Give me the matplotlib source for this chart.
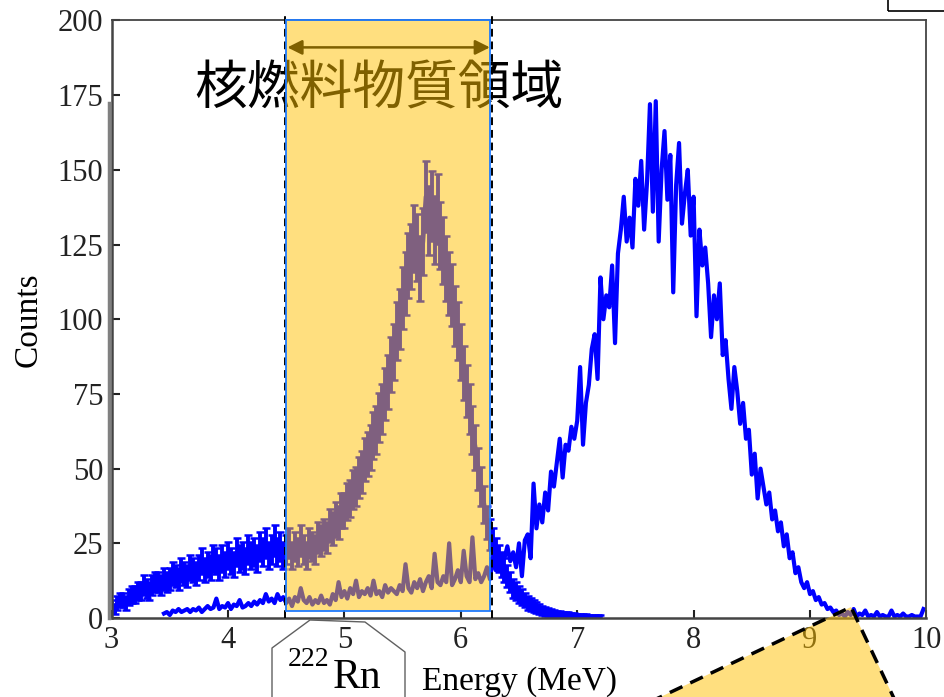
import numpy as np
import matplotlib
matplotlib.use("Agg")
import matplotlib.pyplot as plt
from matplotlib.patches import Rectangle, Polygon
from matplotlib.lines import Line2D

# espectro con barras de error (Rn-222), paso 0.025 MeV desde 3.0
a_start, a_step = 3.0, 0.025
a_counts = [
    4, 3, 5, 6, 6, 5, 7, 8, 8, 9,
    9, 11, 10, 9, 11, 12, 12, 11, 13, 12,
    13, 15, 14, 13, 16, 15, 14, 17, 16, 15,
    17, 19, 16, 18, 17, 20, 19, 17, 20, 18,
    21, 19, 18, 22, 20, 21, 19, 23, 21, 22,
    20, 24, 22, 25, 21, 23, 26, 22, 24, 21,
    23, 25, 21, 24, 22, 26, 23, 21, 25, 24,
    23, 27, 26, 28, 27, 31, 30, 33, 32, 36,
    36, 39, 40, 43, 44, 47, 49, 53, 55, 57,
    61, 63, 67, 70, 75, 79, 85, 89, 96, 100,
    107, 112, 118, 121, 127, 124, 117, 126, 141, 133,
    138, 130, 137, 128, 123, 117, 112, 108, 101, 96,
    89, 82, 76, 70, 63, 57, 50, 44, 38, 32,
    28, 25, 22, 20, 18, 16, 14, 12, 10, 9,
    8, 7, 6, 5, 4.5, 4, 3.5, 3, 2.5, 2.2,
    2, 1.8, 1.5, 1.3, 1.2, 1.1, 1, 0.9, 0.8, 0.7,
    0.6, 0.6, 0.5, 0.5, 0.4, 0.4, 0.3, 0.3, 0.3,
]

# espectro sin barras de error, paso 0.025 MeV desde 3.45
b_start, b_step = 3.45, 0.025
b_counts = [
    1.5, 2, 1, 2.5, 2, 3, 2, 2.5, 3, 2,
    3, 2.5, 3.5, 2, 3, 4, 3, 3.5, 6.5, 3,
    4, 3.5, 5, 3, 4.5, 4, 6, 3.5, 4, 5,
    4, 5.5, 4.5, 6, 5, 8, 5.5, 6.5, 5, 8,
    6, 7, 5, 6.5, 4, 7, 5.5, 10, 6, 5,
    7, 4.5, 6, 5, 7.5, 5, 6, 4.5, 8, 6,
    12, 7, 9, 6.5, 10, 8, 12.5, 7, 9, 8,
    10, 7.5, 12.5, 8, 9, 7, 11, 8.5, 10, 9,
    8, 11, 9, 18, 10, 8.5, 12, 10, 13, 9,
    12, 14, 10, 21.5, 12, 11, 14, 12, 25, 11,
    13, 16, 12, 22.5, 14, 12, 27, 13, 15, 12,
    14, 17, 13, 20, 16, 21, 18, 20, 24, 19,
    22, 17, 25, 14, 26, 28, 20, 45, 30, 38,
    32, 42, 36, 49, 44, 52, 60, 47, 58, 56,
    64, 60, 66, 84, 58, 72, 78, 90, 95, 80,
    114, 100, 108, 104, 118, 92, 122, 130, 141, 126,
    134, 124, 147, 138, 153, 130, 146, 172, 136, 173,
    126, 150, 163, 140, 155, 109, 145, 159, 132, 142,
    150, 128, 141, 101, 130, 118, 124, 112, 94, 108,
    100, 112, 88, 93, 80, 70, 84, 76, 65, 72,
    60, 63, 48, 55, 40, 50, 44, 38, 42, 33,
    36, 29, 32, 24, 28, 20, 22, 15, 17, 12,
    10, 12, 8, 9, 6, 7, 4.5, 5, 3, 3.5,
    2, 2.5, 1, 1.5, 0.5, 2, 1, 3, 0.5, 1.5,
    1, 2.5, 0.5, 1, 0.5, 2, 0.5, 1, 0.5, 0.5,
    2.5, 0.5, 1, 0.5, 1.5, 0.5, 0.5, 1, 0.5, 0.5,
    0.5, 3,
]

xticks = [3, 4, 5, 6, 7, 8, 9, 10]
yticks = [0, 25, 50, 75, 100, 125, 150, 175, 200]
region = (4.5, 6.25)
region_label = "核燃料物質領域"
xlabel = "Energy (MeV)"
ylabel = "Counts"

W, H = 945, 697
def fx(px):
    return px / W
def fy(py):
    return 1 - py / H

plt.rcParams['font.family'] = ['Liberation Serif', 'DejaVu Serif']

a_counts = np.array(a_counts, dtype=float)
b_counts = np.array(b_counts, dtype=float)
a_x = a_start + a_step * np.arange(len(a_counts))
b_x = b_start + b_step * np.arange(len(b_counts))

fig = plt.figure(figsize=(9.45, 6.97), dpi=100)
ax = fig.add_axes([fx(111.6), fy(618), (926.4 - 111.6) / W, (618 - 20.5) / H])

ax.errorbar(a_x, a_counts, yerr=np.sqrt(a_counts), color='blue', lw=3.2,
            elinewidth=2.8, capsize=3, capthick=1.8, zorder=2)
ax.plot(b_x, b_counts, color='blue', lw=3.0, zorder=2)

# zona de material nuclear
ax.text(5.30, 177, region_label, fontsize=38, family=['Noto Sans CJK JP'],
        ha='center', va='center', color='black', zorder=3)
ax.annotate('', xy=(region[0] + 0.01, 191), xytext=(region[1], 191),
            arrowprops=dict(arrowstyle='<|-|>', color='black', lw=1.8,
                            mutation_scale=22, shrinkA=0, shrinkB=0), zorder=3)
ax.plot([region[0] - 0.01] * 2, [0, 201.5], color='black', ls=(0, (4, 2.5)),
        lw=1.4, clip_on=False, zorder=3)
ax.plot([region[1] + 0.015] * 2, [0, 201.5], color='black', ls=(0, (4, 2.5)),
        lw=1.4, clip_on=False, zorder=5)
ax.add_patch(Rectangle((region[0], 2.3), region[1] - region[0], 197.7,
                       facecolor=(1, 0.753, 0, 0.5), edgecolor='#1f7bff',
                       lw=1.3, zorder=4, clip_on=False))

ax.set_xlim(3, 10)
ax.set_ylim(0, 200)
ax.set_xticks(xticks)
ax.set_yticks(yticks)
ax.tick_params(direction='in', length=6, width=1.5, labelsize=22, colors='#222222')
ax.tick_params(axis='x', pad=6)
ax.tick_params(axis='y', pad=6)
for s in ax.spines.values():
    s.set_color('#444444')
    s.set_linewidth(1.3)
ax.spines['left'].set_linewidth(1.8)
ax.spines['bottom'].set_linewidth(1.8)

fig.text(fx(520), fy(690), xlabel, ha='center', va='baseline', fontsize=24)
fig.text(fx(44), fy(320), ylabel, rotation=90, ha='right', va='center', fontsize=24)

# marca gris junto al eje y
fig.add_artist(Line2D([fx(109.5)] * 2, [fy(103), fy(618)], color='#808080', lw=2.5))

# llamada 222Rn
fig.add_artist(Line2D([fx(p) for p in [272, 272, 310, 365, 405, 405]],
                      [fy(p) for p in [700, 648, 620, 622, 652, 700]],
                      color='#606060', lw=1))
fig.text(fx(288), fy(666), "222", fontsize=20, va='baseline', ha='left')
fig.text(fx(333), fy(688), "Rn", fontsize=30, va='baseline', ha='left')

# forma recortada abajo a la derecha
fig.add_artist(Polygon([(fx(527), fy(760)), (fx(851), fy(607)), (fx(923), fy(760))],
                       closed=True, facecolor=(1, 0.753, 0, 0.5), edgecolor='black',
                       lw=2.5, ls=(0, (4, 2.5)), zorder=6))

# caja recortada arriba a la derecha
fig.add_artist(Rectangle((fx(888), fy(10.7)), 0.2, 0.1, facecolor='none',
                         edgecolor='black', lw=1.2))

fig.savefig("out.png", dpi=100)
